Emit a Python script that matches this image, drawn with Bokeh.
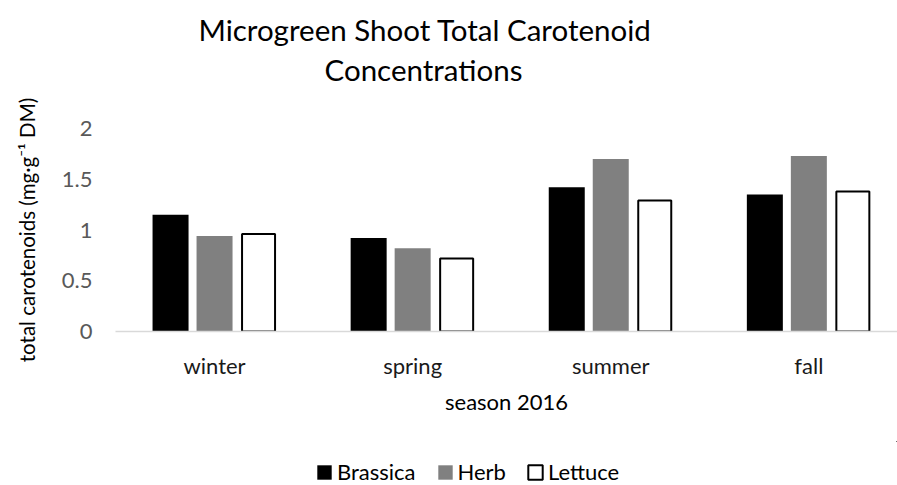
import numpy as np
from bokeh.plotting import figure
from bokeh.layouts import column
from bokeh.models import Range1d, FixedTicker, Title, Legend, LegendItem
from bokeh.embed import file_html
from bokeh.resources import INLINE

# ---- data ----
seasons = ["winter", "spring", "summer", "fall"]
series = ["Brassica", "Herb", "Lettuce"]
brassica = [1.15, 0.92, 1.42, 1.35]
herb = [0.94, 0.82, 1.70, 1.73]
lettuce = [0.96, 0.72, 1.29, 1.38]
y_ticks = [0, 0.5, 1, 1.5, 2]
y_tick_labels = ["0", "0.5", "1", "1.5", "2"]
title_lines = ["Microgreen Shoot Total Carotenoid", "Concentrations"]
x_title = "season 2016"
y_title = "total carotenoids (mg·g⁻¹ DM)"

# ---- layout ----
FONT = "Lato"
W = 897
H_MAIN, H_LEG = 441, 44
FL, FT, FH = 115, 128, 203
FW = W - FL
CAT_PX = 198.1

p = figure(width=W, height=H_MAIN, output_backend="svg", toolbar_location=None, title=None,
           x_range=Range1d(0, FW / CAT_PX), y_range=Range1d(0, 2),
           min_border_left=FL, min_border_right=0, min_border_top=FT,
           min_border_bottom=H_MAIN - FT - FH)
p.background_fill_color = "white"
p.border_fill_color = "white"
p.outline_line_color = None
p.xgrid.visible = False
p.ygrid.visible = False

x_idx = np.arange(len(seasons)) + 0.5
off = 44 / CAT_PX
offsets = [-off, 0, off]
styles = [
    dict(fill_color="black", line_color=None),
    dict(fill_color="#808080", line_color=None),
    dict(fill_color="white", line_color="black", line_width=2),
]
widths = [36 / CAT_PX, 36 / CAT_PX, 33 / CAT_PX]
values = [brassica, herb, lettuce]
for vals, o, st, w in zip(values, offsets, styles, widths):
    p.vbar(x=x_idx + o, top=vals, bottom=0, width=w, **st)

# axes
xa = p.xaxis[0]
xa.ticker = FixedTicker(ticks=list(x_idx))
xa.major_label_overrides = {float(t): s for t, s in zip(x_idx, seasons)}
xa.axis_line_color = "#d9d9d9"
xa.axis_line_width = 1.5
xa.major_tick_line_color = None
xa.minor_tick_line_color = None
xa.major_tick_in = 0
xa.major_tick_out = 0
xa.major_label_standoff = 20
xa.major_label_text_font = FONT
xa.major_label_text_font_size = "22px"
xa.major_label_text_color = "#1a1a1a"
xa.axis_label = x_title
xa.axis_label_text_font = FONT
xa.axis_label_text_font_size = "22px"
xa.axis_label_text_font_style = "normal"
xa.axis_label_text_color = "black"
xa.axis_label_standoff = 6

ya = p.yaxis[0]
ya.ticker = FixedTicker(ticks=y_ticks)
ya.major_label_overrides = {float(t): s for t, s in zip(y_ticks, y_tick_labels)}
ya.axis_line_color = None
ya.major_tick_line_color = None
ya.minor_tick_line_color = None
ya.major_tick_in = 0
ya.major_tick_out = 0
ya.major_label_standoff = 23
ya.major_label_text_font = FONT
ya.major_label_text_font_size = "22px"
ya.major_label_text_color = "#595959"
ya.axis_label = y_title
ya.axis_label_text_font = FONT
ya.axis_label_text_font_size = "20.5px"
ya.axis_label_text_font_style = "normal"
ya.axis_label_text_color = "black"
ya.axis_label_standoff = 20

# title: spacer (nearest the plot), second line, then first line on top
p.add_layout(Title(text=" ", text_font_size="10px", standoff=28), "above")
for line, offset, standoff in zip(reversed(title_lines), [209, 83], [2, 3]):
    p.add_layout(Title(text=line, align="left", offset=offset, standoff=standoff,
                       vertical_align="bottom", text_font=FONT, text_font_size="29.5px",
                       text_font_style="normal", text_color="black"), "above")

# ---- legend strip under the chart (its frame is aligned with the chart's) ----
# its ranges lie far from the data, so the series glyphs here only lend their swatches
pl = figure(width=W, height=H_LEG, output_backend="svg", toolbar_location=None, title=None,
            x_range=Range1d(-100, -99), y_range=Range1d(-100, -99),
            x_axis_type=None, y_axis_type=None, min_border=0)
pl.outline_line_color = None
pl.background_fill_color = "white"
pl.border_fill_color = "white"
leg_renderers = [pl.vbar(x=x_idx + o, top=vals, bottom=0, width=w, **st)
                 for vals, o, st, w in zip(values, offsets, styles, widths)]
leg = Legend(items=[LegendItem(label=n, renderers=[r]) for n, r in zip(series, leg_renderers)],
             location=(200, 0), orientation="horizontal",
             glyph_width=18, glyph_height=18, label_standoff=4, spacing=20,
             padding=0, margin=0, border_line_color=None, background_fill_alpha=0,
             label_text_font=FONT, label_text_font_size="22px", label_text_color="black")
pl.add_layout(leg)

layout = column(p, pl, spacing=0)
open("out.html", "w").write(file_html(layout, INLINE))
